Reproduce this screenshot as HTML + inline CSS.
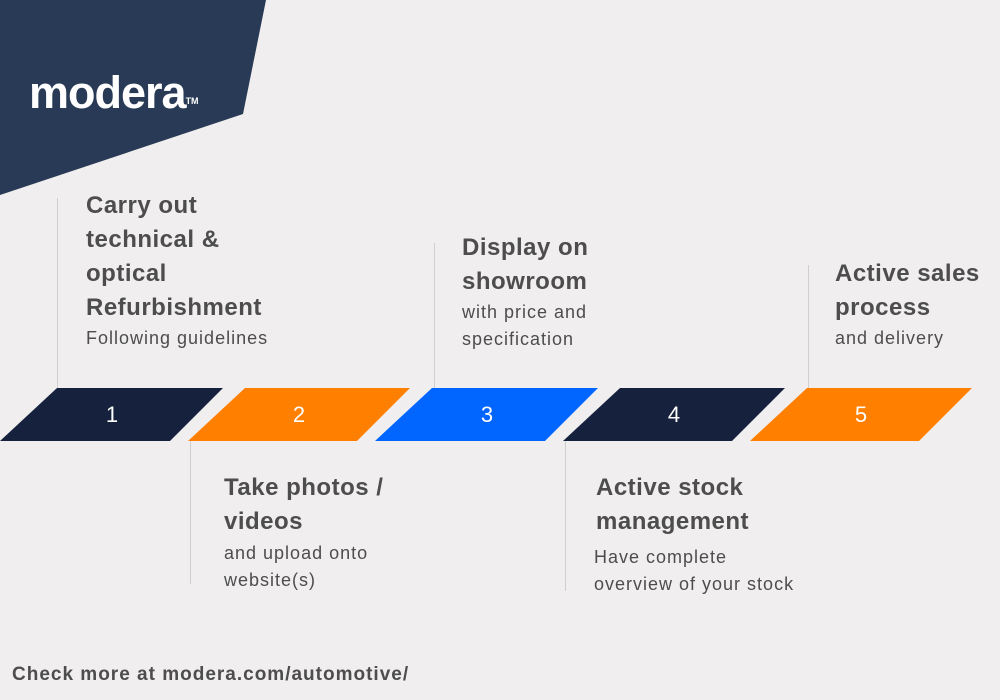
<!DOCTYPE html>
<html><head><style>
body{margin:0;width:1000px;height:700px;background:#f0eeef;position:relative;overflow:hidden;font-family:"Liberation Sans",sans-serif;color:#4d4d4d}
.a{position:absolute;white-space:nowrap}
.h{font-weight:bold;font-size:24px;line-height:34px;letter-spacing:0.5px}
.s{font-size:18px;line-height:27px;letter-spacing:1px}
.ln{position:absolute;width:1px;background:#cfcfcf}
</style></head><body>
<svg width="1000" height="700" style="position:absolute;left:0;top:0">
<polygon points="0,0 266,0 243,114 0,195" fill="#283a55"/>
<polygon points="57,388 223,388 170,441 0,441" fill="#16223d"/>
<polygon points="245,388 410,388 357,441 188,441" fill="#ff7f00"/>
<polygon points="432,388 598,388 545,441 375,441" fill="#0066ff"/>
<polygon points="620,388 785,388 732,441 563,441" fill="#16223d"/>
<polygon points="807,388 972,388 919,441 750,441" fill="#ff7f00"/>
<g fill="#fff" font-family="Liberation Sans, sans-serif" font-size="22" text-anchor="middle">
<text x="112" y="422">1</text><text x="299" y="422">2</text><text x="487" y="422">3</text><text x="674" y="422">4</text><text x="861" y="422">5</text>
</g>
</svg>
<div class="a" style="left:29px;top:66px;font-size:45px;font-weight:bold;color:#fff;letter-spacing:-1px;line-height:54px">modera<span style="font-size:9px;vertical-align:top;position:relative;top:8px;letter-spacing:0">TM</span></div>
<div class="ln" style="left:57px;top:198px;height:190px"></div>
<div class="ln" style="left:190px;top:441px;height:143px"></div>
<div class="ln" style="left:434px;top:243px;height:145px"></div>
<div class="ln" style="left:565px;top:441px;height:150px"></div>
<div class="ln" style="left:808px;top:265px;height:123px"></div>
<div class="a" style="left:86px;top:189px"><div class="h">Carry out<br>technical &amp;<br>optical<br>Refurbishment</div><div class="s" style="margin-top:0px">Following guidelines</div></div>
<div class="a" style="left:224px;top:471px"><div class="h">Take photos /<br>videos</div><div class="s" style="margin-top:1px">and upload onto<br>website(s)</div></div>
<div class="a" style="left:462px;top:231px"><div class="h">Display on<br>showroom</div><div class="s" style="margin-top:0px">with price and<br>specification</div></div>
<div class="a" style="left:596px;top:471px"><div class="h">Active stock<br>management</div><div class="s" style="margin-top:5px;margin-left:-2px">Have complete<br>overview of your stock</div></div>
<div class="a" style="left:835px;top:257px"><div class="h">Active sales<br>process</div><div class="s" style="margin-top:0px">and delivery</div></div>
<div class="a" style="left:12px;top:662px;font-size:19px;font-weight:bold;line-height:26px;letter-spacing:1px">Check more at modera.com/automotive/</div>
</body></html>
